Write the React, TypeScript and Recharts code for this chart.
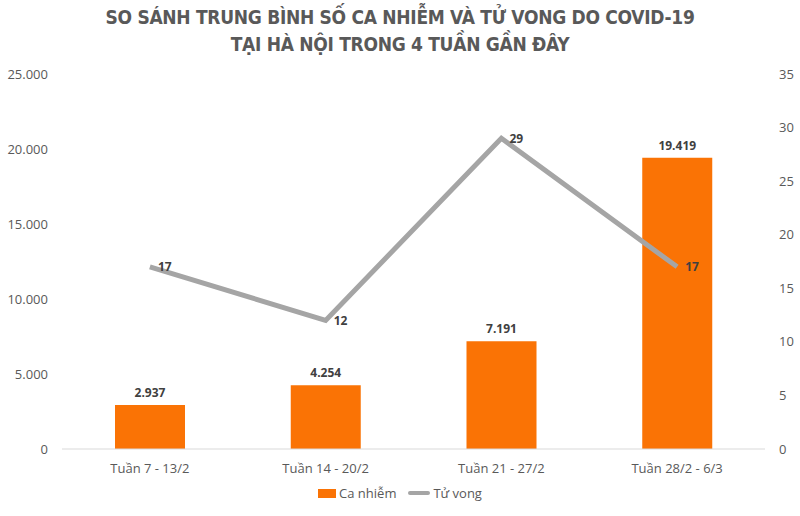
import { ComposedChart, Bar, Line, XAxis, YAxis, LabelList, Legend } from 'recharts';

const weeks = ['Tuần 7 - 13/2', 'Tuần 14 - 20/2', 'Tuần 21 - 27/2', 'Tuần 28/2 - 6/3'];
const caNhiem = [2937, 4254, 7191, 19419];
const tuVong = [17, 12, 29, 17];
const leftTicks = [0, 5000, 10000, 15000, 20000, 25000];
const rightTicks = [0, 5, 10, 15, 20, 25, 30, 35];

const data = weeks.map((name, i) => ({ name, caNhiem: caNhiem[i], tuVong: tuVong[i] }));

const FONT = '"Open Sans", "Noto Sans", sans-serif';
const ORANGE = '#FA7305';
const GRAY = '#A5A5A5';
const TEXT = '#595959';

// 19419 -> "19.419"
const fmt = (v: number) => String(v).replace(/\B(?=(\d{3})+(?!\d))/g, '.');

const renderLegend = () => (
    <div style={{ display: 'flex', justifyContent: 'center', alignItems: 'center', fontFamily: FONT, fontSize: 13, color: TEXT, gap: 12 }}>
        <span style={{ display: 'flex', alignItems: 'center' }}>
            <span style={{ width: 18, height: 9, background: ORANGE, marginRight: 3 }} />
            Ca nhiễm
        </span>
        <span style={{ display: 'flex', alignItems: 'center' }}>
            <span style={{ width: 22, height: 4, borderRadius: 2, background: GRAY, marginRight: 3 }} />
            Tử vong
        </span>
    </div>
);

export default function App() {
    return (
        <div style={{ position: 'absolute', left: 0, top: 0, width: 800, height: 516, background: '#fff', fontFamily: FONT }}>
            <div style={{ position: 'absolute', top: 4, left: 0, width: 800, textAlign: 'center', color: TEXT, fontWeight: 700, fontSize: 19, lineHeight: '27px', fontFamily: '"DejaVu Sans Condensed", "Open Sans", sans-serif', letterSpacing: -0.3 }}>
                SO SÁNH TRUNG BÌNH SỐ CA NHIỄM VÀ TỬ VONG DO COVID-19
                <br />
                TẠI HÀ NỘI TRONG 4 TUẦN GẦN ĐÂY
            </div>
            <ComposedChart width={800} height={516} data={data} margin={{ top: 74, right: 0, bottom: 7, left: 0 }} barCategoryGap="20%">
                <XAxis dataKey="name" height={30} axisLine={{ stroke: '#D9D9D9' }} tickLine={false}
                    tick={{ fill: TEXT, fontSize: 13, fontFamily: FONT }} tickMargin={9} />
                <YAxis yAxisId="left" width={62} domain={[0, 25000]} ticks={leftTicks} tickFormatter={fmt}
                    axisLine={false} tickLine={false} tick={{ fill: TEXT, fontSize: 13, fontFamily: FONT, textAnchor: 'end' }} tickMargin={8} />
                <YAxis yAxisId="right" orientation="right" width={35} domain={[0, 35]} ticks={rightTicks}
                    axisLine={false} tickLine={false} tick={{ fill: TEXT, fontSize: 13, fontFamily: FONT }} tickMargin={8} />
                <Legend verticalAlign="bottom" height={30} content={renderLegend} wrapperStyle={{ bottom: 2 }} />
                <Bar yAxisId="left" dataKey="caNhiem" name="Ca nhiễm" fill={ORANGE} barSize={70} isAnimationActive={false}>
                    <LabelList dataKey="caNhiem" position="top" offset={8} formatter={(v: any) => fmt(Number(v))}
                        style={{ fill: '#404040', fontSize: 12, fontWeight: 700, fontFamily: FONT }} />
                </Bar>
                <Line yAxisId="right" dataKey="tuVong" name="Tử vong" stroke={GRAY} strokeWidth={5} dot={false} activeDot={false} isAnimationActive={false}>
                    <LabelList dataKey="tuVong" position="right" offset={8}
                        style={{ fill: '#404040', fontSize: 12, fontWeight: 700, fontFamily: FONT }} />
                </Line>
            </ComposedChart>
        </div>
    );
}
